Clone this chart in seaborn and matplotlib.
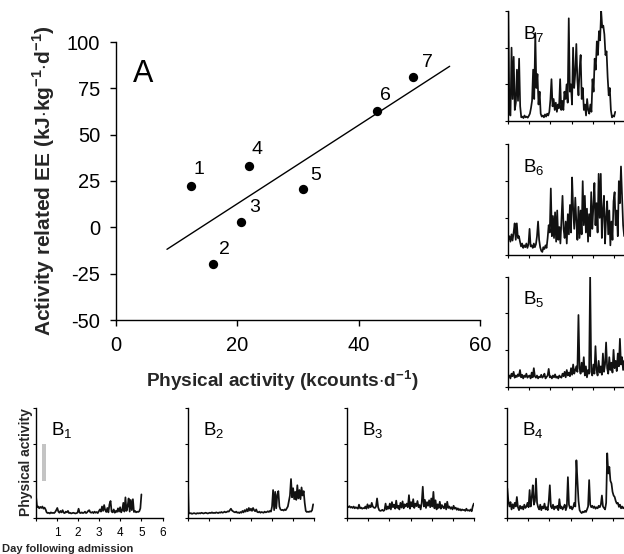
import numpy as np
import pandas as pd
import matplotlib
matplotlib.use("Agg")
import matplotlib.pyplot as plt
import seaborn as sns

# ---------------- data ----------------
# Panel A: mean physical activity vs activity-related energy expenditure per patient
patient_ids = [1, 2, 3, 4, 5, 6, 7]
activity_kcounts = [12.3, 16.0, 20.6, 21.9, 30.9, 43.0, 49.0]
activity_ee = [22.1, -20.0, 2.9, 32.9, 20.7, 63.0, 81.3]
fit_span = [8.4, 55.0]

x_ticks_a = [0, 20, 40, 60]
y_ticks_a = [-50, -25, 0, 25, 50, 75, 100]

# Panels B1..B7: activity traces over the days following admission
trace_end_day = {1: 5.0, 2: 5.95, 3: 6.0, 4: 6.0, 5: 6.0, 6: 6.0, 7: 5.07}

trace_b1 = [
    0.58, 0.28, 0.30, 0.25, 0.29, 0.26, 0.30, 0.24, 0.27, 0.22,
    0.14, 0.12, 0.13, 0.11, 0.14, 0.12, 0.13, 0.12, 0.15, 0.20,
    0.26, 0.16, 0.13, 0.18, 0.14, 0.20, 0.13, 0.12, 0.16, 0.14,
    0.18, 0.12, 0.13, 0.11, 0.12, 0.13, 0.12, 0.11, 0.12, 0.13,
    0.24, 0.13, 0.12, 0.14, 0.12, 0.13, 0.16, 0.12, 0.14, 0.18,
    0.20, 0.14, 0.13, 0.15, 0.12, 0.16, 0.13, 0.15, 0.12, 0.17,
    0.22, 0.16, 0.30, 0.18, 0.34, 0.20, 0.15, 0.26, 0.14, 0.36,
    0.45, 0.16, 0.14, 0.22, 0.13, 0.18, 0.15, 0.25, 0.16, 0.28,
    0.14, 0.20, 0.40, 0.16, 0.55, 0.18, 0.30, 0.52, 0.16, 0.48,
    0.20, 0.50, 0.15, 0.18, 0.14, 0.16, 0.15, 0.17, 0.25, 0.63,
]
trace_b2 = [
    1.17, 0.14, 0.11, 0.12, 0.10, 0.11, 0.12, 0.11, 0.10, 0.12,
    0.11, 0.12, 0.11, 0.13, 0.12, 0.11, 0.12, 0.13, 0.12, 0.11,
    0.12, 0.13, 0.12, 0.14, 0.12, 0.13, 0.12, 0.14, 0.13, 0.12,
    0.14, 0.13, 0.15, 0.13, 0.14, 0.16, 0.14, 0.15, 0.17, 0.16,
    0.20, 0.24, 0.19, 0.17, 0.15, 0.14, 0.16, 0.13, 0.14, 0.12,
    0.15, 0.13, 0.18, 0.14, 0.20, 0.16, 0.23, 0.17, 0.26, 0.19,
    0.24, 0.18, 0.26, 0.20, 0.17, 0.22, 0.15, 0.14, 0.16, 0.13,
    0.15, 0.14, 0.13, 0.16, 0.14, 0.15, 0.17, 0.15, 0.18, 0.16,
    0.30, 0.75, 0.20, 0.70, 0.25, 0.62, 0.72, 0.30, 0.22, 0.20,
    0.21, 0.19, 0.22, 0.20, 0.25, 0.30, 0.45, 0.60, 1.05, 0.55,
    0.80, 0.50, 0.70, 0.48, 0.88, 0.52, 0.75, 0.50, 0.82, 0.60,
    0.72, 0.40, 0.18, 0.15, 0.16, 0.15, 0.17, 0.16, 0.20, 0.36,
]
trace_b3 = [
    0.30, 0.28, 0.31, 0.27, 0.29, 0.26, 0.30, 0.25, 0.28, 0.26,
    0.24, 0.35, 0.25, 0.27, 0.24, 0.26, 0.25, 0.30, 0.24, 0.36,
    0.26, 0.33, 0.28, 0.40, 0.30, 0.27, 0.26, 0.30, 0.52, 0.28,
    0.20, 0.18, 0.19, 0.21, 0.18, 0.20, 0.38, 0.22, 0.30, 0.24,
    0.38, 0.22, 0.42, 0.28, 0.35, 0.24, 0.46, 0.26, 0.32, 0.22,
    0.40, 0.27, 0.44, 0.25, 0.36, 0.30, 0.38, 0.28, 0.61, 0.24,
    0.42, 0.30, 0.50, 0.26, 0.38, 0.31, 0.45, 0.28, 0.34, 0.22,
    0.40, 0.84, 0.30, 0.48, 0.26, 0.42, 0.32, 0.47, 0.28, 0.52,
    0.30, 0.70, 0.25, 0.47, 0.22, 0.36, 0.26, 0.43, 0.24, 0.34,
    0.28, 0.25, 0.38, 0.22, 0.43, 0.26, 0.30, 0.24, 0.28, 0.22,
    0.32, 0.24, 0.27, 0.21, 0.25, 0.20, 0.23, 0.19, 0.22, 0.20,
    0.21, 0.18, 0.24, 0.19, 0.20, 0.18, 0.22, 0.17, 0.30, 0.38,
]
trace_b4 = [
    0.80, 0.45, 0.30, 0.42, 0.22, 0.36, 0.25, 0.40, 0.30, 0.56,
    0.28, 0.20, 0.32, 0.24, 0.30, 0.22, 0.35, 0.26, 0.30, 0.40,
    0.28, 0.75, 0.30, 0.55, 0.88, 0.35, 0.45, 1.06, 0.40, 0.28,
    0.22, 0.35, 0.20, 0.30, 0.25, 0.38, 0.22, 0.28, 0.20, 0.45,
    0.88, 0.30, 0.25, 0.35, 0.22, 0.30, 0.26, 0.32, 0.20, 0.50,
    0.25, 0.30, 0.22, 0.28, 0.35, 0.20, 0.30, 1.10, 0.35, 0.25,
    0.30, 0.22, 0.28, 0.40, 0.30, 1.56, 1.00, 0.45, 0.20, 0.15,
    0.12, 0.16, 0.14, 0.18, 0.15, 0.22, 0.30, 1.02, 0.35, 0.28,
    0.32, 0.26, 0.30, 0.24, 0.28, 0.25, 0.32, 0.28, 0.35, 0.60,
    0.30, 0.26, 0.22, 0.40, 1.75, 1.20, 1.38, 1.00, 0.93, 0.70,
    0.60, 0.56, 0.45, 0.38, 0.40, 0.29, 0.35, 0.25, 0.30, 0.25,
    0.28, 0.24, 0.30, 0.26, 0.35, 0.28, 0.32, 0.25, 0.30, 0.27,
]
trace_b5 = [
    0.25, 0.30, 0.22, 0.35, 0.28, 0.40, 0.24, 0.30, 0.26, 0.33,
    0.28, 0.45, 0.25, 0.32, 0.22, 0.30, 0.26, 0.35, 0.24, 0.28,
    0.30, 0.22, 0.38, 0.25, 0.50, 0.28, 0.24, 0.30, 0.22, 0.27,
    0.25, 0.32, 0.24, 0.28, 0.35, 0.22, 0.26, 0.30, 0.48, 0.25,
    0.28, 0.22, 0.30, 0.25, 0.33, 0.24, 0.27, 0.22, 0.30, 0.26,
    0.24, 0.35, 0.28, 0.40, 0.25, 0.45, 0.30, 0.38, 0.28, 0.50,
    0.32, 0.60, 0.35, 0.45, 0.55, 0.40, 1.95, 0.50, 0.35, 0.65,
    0.40, 0.80, 0.30, 0.55, 0.25, 0.45, 0.35, 3.00, 0.40, 0.30,
    0.60, 0.35, 1.10, 0.45, 0.30, 0.70, 0.38, 0.55, 0.32, 0.90,
    0.40, 0.60, 1.20, 0.50, 0.35, 0.80, 0.45, 0.65, 0.38, 1.00,
    0.50, 0.70, 0.42, 0.90, 0.55, 1.30, 0.60, 0.80, 0.45, 0.70,
    0.50, 0.85, 0.40, 0.65, 0.55, 0.95, 0.45, 0.70, 0.50, 0.60,
]
trace_b6 = [
    0.40, 0.50, 0.35, 0.55, 0.38, 0.60, 0.85, 0.40, 0.85, 0.45,
    0.50, 0.35, 0.22, 0.30, 0.18, 0.25, 0.20, 0.30, 0.18, 0.28,
    0.70, 0.22, 0.25, 0.18, 0.30, 0.20, 0.28, 0.50, 0.90, 0.40,
    0.20, 0.10, 0.07, 0.20, 0.15, 0.25, 0.18, 0.45, 0.80, 0.60,
    1.80, 0.50, 1.05, 0.45, 1.15, 0.35, 1.20, 0.40, 0.75, 0.30,
    0.95, 1.60, 0.70, 0.45, 0.90, 0.30, 1.10, 0.55, 1.35, 0.60,
    2.10, 1.25, 0.70, 1.55, 0.90, 0.40, 1.30, 0.45, 1.20, 0.55,
    2.00, 0.80, 1.60, 0.60, 1.25, 0.35, 1.10, 0.50, 1.70, 0.70,
    1.30, 1.95, 0.80, 1.40, 0.60, 2.20, 1.00, 2.20, 0.45, 1.20,
    1.60, 0.30, 1.00, 1.45, 0.55, 1.20, 0.25, 0.90, 0.40, 1.45,
    1.70, 0.80, 1.20, 0.50, 2.00, 1.40, 2.40, 1.60, 0.80, 0.50,
    0.90, 1.30, 0.60, 1.10, 0.40, 1.50, 0.70, 1.20, 0.50, 0.90,
]
trace_b7 = [
    3.00, 0.20, 0.15, 2.00, 0.60, 1.75, 0.30, 0.50, 1.40, 0.55,
    1.70, 0.40, 0.10, 0.12, 0.08, 0.15, 0.10, 0.12, 0.09, 0.14,
    0.20, 0.35, 0.55, 1.40, 0.60, 2.40, 0.90, 1.28, 0.45, 0.80,
    0.20, 0.12, 0.15, 0.10, 0.18, 0.12, 0.20, 0.15, 0.25, 0.58,
    1.14, 0.40, 0.60, 0.30, 0.50, 0.25, 0.45, 0.35, 1.14, 0.30,
    0.55, 0.30, 0.80, 0.60, 1.00, 0.50, 2.80, 0.80, 1.00, 0.45,
    2.00, 0.90, 1.30, 2.10, 1.10, 0.70, 1.40, 1.80, 0.60, 0.90,
    0.30, 0.45, 0.15, 0.60, 0.30, 0.20, 0.45, 0.25, 1.14, 0.80,
    1.70, 1.40, 2.17, 1.80, 2.45, 2.20, 3.00, 2.55, 2.60, 2.36,
    1.80, 1.90, 1.20, 0.70, 0.90, 0.30, 0.10, 0.15, 0.12, 0.25,
]
traces = {1: trace_b1, 2: trace_b2, 3: trace_b3, 4: trace_b4,
          5: trace_b5, 6: trace_b6, 7: trace_b7}

day_ticks = [0, 1, 2, 3, 4, 5, 6]
day_ticklabels = ["", "1", "2", "3", "4", "5", "6"]
activity_ticks = [0, 1, 2, 3]
scale_bar = {"day": 0.365, "width": 0.19, "low": 1.0, "high": 2.0}

# ---------------- style ----------------
sns.set_theme(style="ticks")
plt.rcParams["font.family"] = ["Liberation Sans", "DejaVu Sans"]
plt.rcParams["mathtext.fontset"] = "custom"
plt.rcParams["mathtext.rm"] = "Liberation Sans"
plt.rcParams["axes.unicode_minus"] = False
plt.rcParams["axes.linewidth"] = 1.0
plt.rcParams["axes.edgecolor"] = "black"
plt.rcParams["text.color"] = "black"
plt.rcParams["xtick.color"] = "black"
plt.rcParams["ytick.color"] = "black"

W, H = 624, 554
fig = plt.figure(figsize=(W / 100, H / 100), dpi=100)


def px_axes(left, bottom, width, height):
    return fig.add_axes([left / W, bottom / H, width / W, height / H])


# ---------------- panel A ----------------
ax = px_axes(116, H - 320, 364, 278)
df_a = pd.DataFrame({"pa": activity_kcounts, "ee": activity_ee, "id": patient_ids})
sns.scatterplot(data=df_a, x="pa", y="ee", ax=ax, color="black", s=45,
                edgecolor="black", linewidth=0, zorder=3, legend=False)

slope, intercept = np.polyfit(activity_kcounts, activity_ee, 1)
fit_df = pd.DataFrame({"pa": fit_span,
                       "ee": [slope * v + intercept for v in fit_span]})
sns.lineplot(data=fit_df, x="pa", y="ee", ax=ax, color="black", linewidth=1.0)

label_offsets_px = {1: (3, 8), 2: (6, 6), 3: (8, 6), 4: (3, 8),
                    5: (7, 5), 6: (3, 7), 7: (9, 6)}
for pid, xv, yv in zip(patient_ids, activity_kcounts, activity_ee):
    dx, dy = label_offsets_px[pid]
    ax.annotate(str(pid), (xv, yv), xytext=(dx * 0.72, dy * 0.72),
                textcoords="offset points", fontsize=14, ha="left", va="bottom")

ax.set_xlim(0, 60)
ax.set_ylim(-50, 100)
ax.set_xticks(x_ticks_a)
ax.set_yticks(y_ticks_a)
ax.tick_params(direction="out", length=4.5, width=1.0, labelsize=14.5, pad=7)
sns.despine(ax=ax)
ax.set_xlabel(r"Physical activity (kcounts$\cdot$d$^{\mathregular{-1}}$)",
              fontsize=13.7, fontweight="bold")
ax.xaxis.set_label_coords(0.456, -0.175)
ax.set_ylabel(r"Activity related EE (kJ$\cdot$kg$^{\mathregular{-1}}$$\cdot$d$^{\mathregular{-1}}$)",
              fontsize=15, fontweight="bold", labelpad=7)
ax.text(0.047, 0.856, "A", transform=ax.transAxes, fontsize=22,
        ha="left", va="baseline")

# ---------------- panels B ----------------
panel_boxes = {
    1: (36, H - 517.5),
    2: (187.7, H - 517.5),
    3: (347.3, H - 517.5),
    4: (507.3, H - 517.5),
    5: (508.3, H - 386.5),
    6: (508.3, H - 254.5),
    7: (508.3, H - 121),
}

for k, (left, bottom) in panel_boxes.items():
    bx = px_axes(left, bottom, 126.5, 110)
    vals = traces[k]
    days = np.linspace(0, trace_end_day[k], len(vals))
    tdf = pd.DataFrame({"day": days, "activity": vals})
    sns.lineplot(data=tdf, x="day", y="activity", ax=bx, color="#111111",
                 linewidth=1.25, estimator=None, sort=False)
    bx.set_xlim(0, 6)
    bx.set_ylim(0, 3)
    bx.set_xticks(day_ticks)
    bx.set_yticks(activity_ticks)
    bx.set_yticklabels([])
    bx.tick_params(direction="out", length=2.5, width=0.8, pad=4.5)
    sns.despine(ax=bx)
    bx.set_xlabel("")
    bx.set_ylabel("")
    bx.text(0.12, 0.74, r"B$_\mathregular{%d}$" % k, transform=bx.transAxes,
            fontsize=13.5, ha="left", va="baseline")
    if k == 1:
        bx.set_xticklabels(day_ticklabels, fontsize=8.5)
        bx.set_xlabel("Day following admission", fontsize=8, fontweight="bold",
                      labelpad=1)
        bx.xaxis.set_label_coords((68 - 36) / 126.5, -0.24)
        bx.set_ylabel("Physical activity", fontsize=10, fontweight="bold",
                      labelpad=-5)
        bx.bar(scale_bar["day"], scale_bar["high"] - scale_bar["low"],
               bottom=scale_bar["low"], width=scale_bar["width"],
               color="#c4c4c4", linewidth=0, zorder=1)
    else:
        bx.set_xticklabels([])

fig.savefig("out.png", dpi=100)
